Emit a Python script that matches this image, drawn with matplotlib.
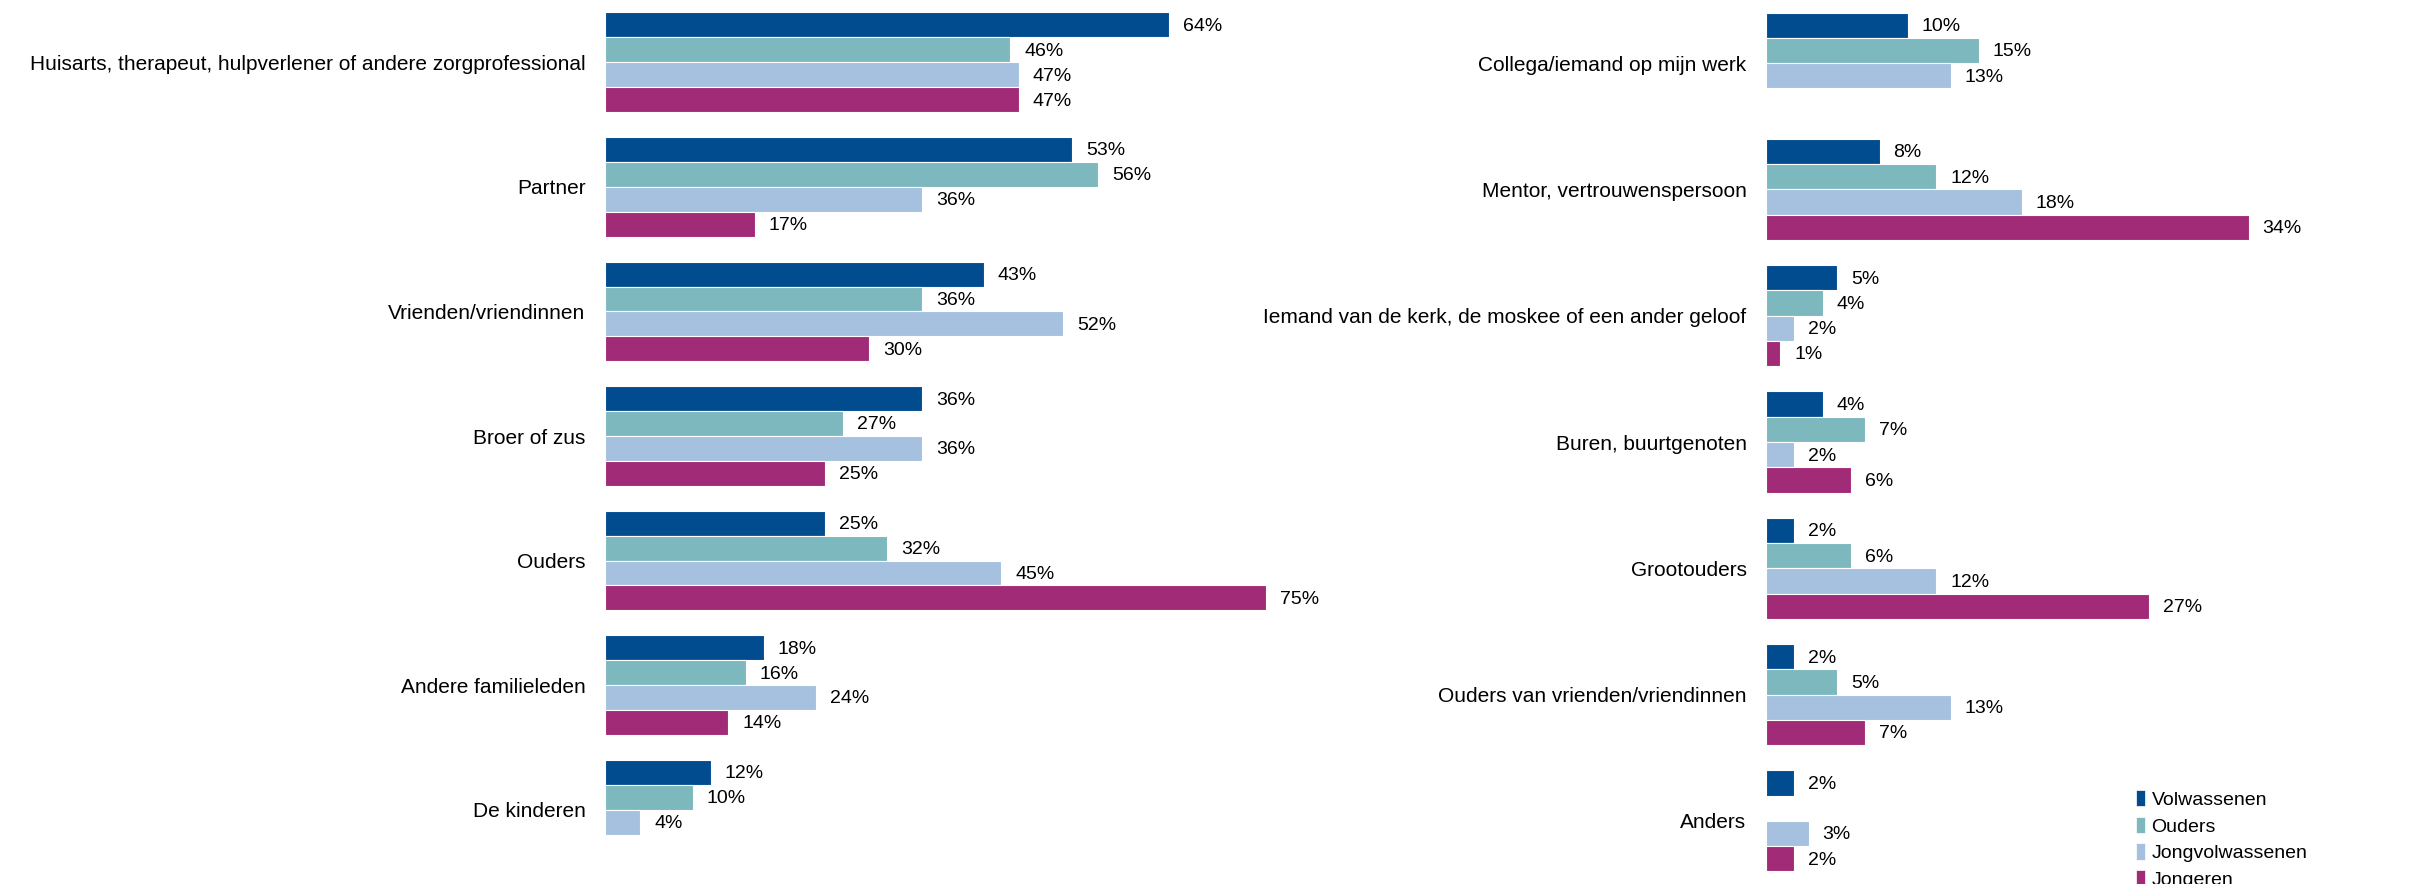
import numpy as np
import matplotlib
matplotlib.use('Agg')
import matplotlib.pyplot as plt
from matplotlib.patches import Patch

plt.rcParams['font.family'] = ['Liberation Sans', 'DejaVu Sans']

# Reeksen en kleuren
series = ['Volwassenen', 'Ouders', 'Jongvolwassenen', 'Jongeren']
colors = ['#004C8F', '#7CB8BD', '#A6C1DF', '#A22B77']

# Linker paneel
left_categories = ['Huisarts, therapeut, hulpverlener of andere zorgprofessional', 'Partner',
                   'Vrienden/vriendinnen', 'Broer of zus', 'Ouders', 'Andere familieleden', 'De kinderen']
left_volwassenen = [64, 53, 43, 36, 25, 18, 12]
left_ouders = [46, 56, 36, 27, 32, 16, 10]
left_jongvolwassenen = [47, 36, 52, 36, 45, 24, 4]
left_jongeren = [47, 17, 30, 25, 75, 14, None]

# Rechter paneel
right_categories = ['Collega/iemand op mijn werk', 'Mentor, vertrouwenspersoon',
                    'Iemand van de kerk, de moskee of een ander geloof', 'Buren, buurtgenoten',
                    'Grootouders', 'Ouders van vrienden/vriendinnen', 'Anders']
right_volwassenen = [10, 8, 5, 4, 2, 2, 2]
right_ouders = [15, 12, 4, 7, 6, 5, None]
right_jongvolwassenen = [13, 18, 2, 2, 12, 13, 3]
right_jongeren = [None, 34, 1, 6, 27, 7, 2]


def draw(ax, cats, data, xmax):
    y = np.arange(len(cats))
    for i, (vals, col) in enumerate(zip(data, colors)):
        pos = y - 0.3 + i * 0.2
        keep = [(p, v) for p, v in zip(pos, vals) if v is not None]
        ps = [k[0] for k in keep]
        vs = [k[1] for k in keep]
        ax.barh(ps, vs, height=0.2, color=col, edgecolor='white', linewidth=0.8)
        for p, v in keep:
            ax.annotate(f'{v}%', xy=(v, p), xytext=(10, -1), textcoords='offset points',
                        va='center', ha='left', fontsize=14)
    ax.set_yticks(y, cats)
    ax.set_ylim(len(cats) - 0.5, -0.5)
    ax.set_xlim(0, xmax)
    ax.set_xticks([])
    for s in ax.spines.values():
        s.set_visible(False)
    ax.tick_params(axis='y', length=0, pad=14, labelsize=15)


fig = plt.figure(figsize=(24.35, 8.84), dpi=100)
ax1 = fig.add_axes([605 / 2435, 12 / 884, 881 / 2435, 872 / 884])
ax2 = fig.add_axes([1766 / 2435, 0, 568 / 2435, 1])

draw(ax1, left_categories, [left_volwassenen, left_ouders, left_jongvolwassenen, left_jongeren], 100)
draw(ax2, right_categories, [right_volwassenen, right_ouders, right_jongvolwassenen, right_jongeren], 40)

handles = [Patch(facecolor=c, edgecolor='white', linewidth=0.5) for c in colors]
fig.legend(handles, series, loc='upper left', bbox_to_anchor=(2136 / 2435, 0.106), frameon=False,
           fontsize=14, handlelength=0.45, handleheight=0.9, handletextpad=0.35,
           labelspacing=0.4, borderaxespad=0, borderpad=0)

fig.savefig('out.png', dpi=100)
